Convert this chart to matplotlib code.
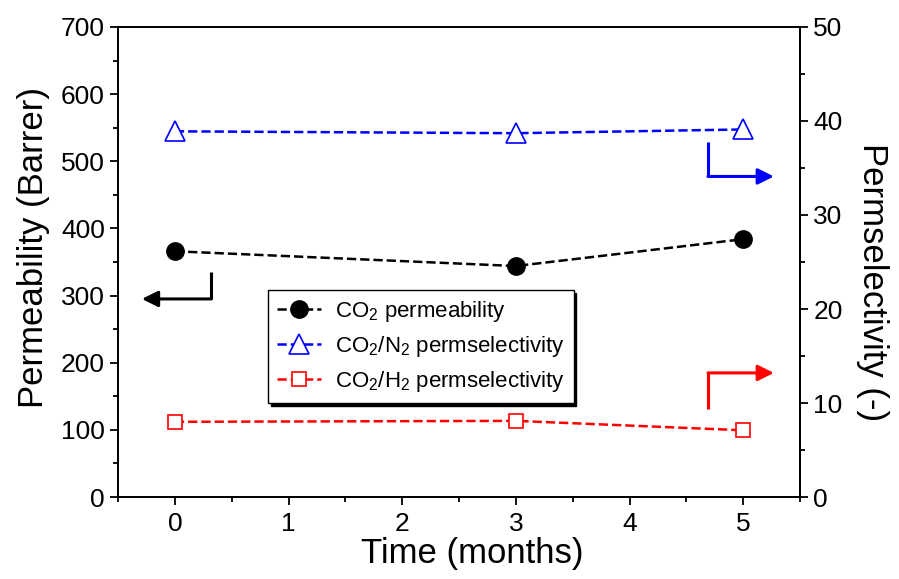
import matplotlib
matplotlib.use('Agg')
import matplotlib.pyplot as plt
from matplotlib.ticker import MultipleLocator

plt.rcParams['font.family'] = ['Liberation Sans', 'DejaVu Sans']
plt.rcParams['mathtext.fontset'] = 'custom'
plt.rcParams['mathtext.rm'] = 'Liberation Sans'
plt.rcParams['mathtext.default'] = 'regular'

# storage time (months)
months = [0, 3, 5]
# CO2 permeability, Barrer (left axis)
co2_perm = [366, 344, 384]
# permselectivities (right axis)
co2_n2_sel = [38.9, 38.7, 39.1]
co2_h2_sel = [8.0, 8.1, 7.1]

fig = plt.figure(figsize=(8.99, 5.79), dpi=100)
ax = fig.add_axes([0.1313, 0.1416, 0.7586, 0.8118])
ax2 = ax.twinx()

l1, = ax.plot(months, co2_perm, ls='--', lw=1.8, color='black', marker='o',
              ms=12.5, mfc='black', mec='black', label=r'CO$_2$ permeability')
l2, = ax2.plot(months, co2_n2_sel, ls='--', lw=1.8, color='#0000ff', marker='^',
               ms=14, mfc='white', mec='#0000ff', mew=1.2,
               label=r'CO$_2$/N$_2$ permselectivity')
l3, = ax2.plot(months, co2_h2_sel, ls='--', lw=1.8, color='#ff0000', marker='s',
               ms=10.5, mfc='white', mec='#ff0000', mew=1.2,
               label=r'CO$_2$/H$_2$ permselectivity')

ax.set_xlim(-0.5, 5.5)
ax.set_ylim(0, 700)
ax2.set_ylim(0, 50)

ax.xaxis.set_major_locator(MultipleLocator(1))
ax.xaxis.set_minor_locator(MultipleLocator(0.5))
ax.yaxis.set_major_locator(MultipleLocator(100))
ax.yaxis.set_minor_locator(MultipleLocator(50))
ax2.yaxis.set_major_locator(MultipleLocator(10))
ax2.yaxis.set_minor_locator(MultipleLocator(5))

for a in (ax, ax2):
    for s in a.spines.values():
        s.set_linewidth(1.3)
    a.tick_params(which='major', direction='out', length=6, width=1.3, labelsize=19)
    a.tick_params(which='minor', direction='out', length=3.5, width=1.3)
ax.tick_params(axis='x', pad=5)

ax.set_xlabel('Time (months)', fontsize=25, va='top')
ax.xaxis.set_label_coords(0.519, -0.085)
ax.set_ylabel('Permeability (Barrer)', fontsize=25, va='baseline',
              ha='center', rotation=90, rotation_mode='anchor')
ax.yaxis.set_label_coords(-0.11, 0.53)
ax2.set_ylabel('Permselectivity (-)', fontsize=25, va='baseline',
               ha='center', rotation=-90, rotation_mode='anchor')
ax2.yaxis.set_label_coords(1.092, 0.457)

# corner arrows pointing at each series' axis
arrow = dict(arrowstyle='-|>', mutation_scale=24, shrinkA=0, shrinkB=0)
ax.plot([0.32, 0.32], [335, 295], color='black', lw=2.2, solid_capstyle='butt')
ax.annotate('', xy=(-0.29, 295), xytext=(0.32, 295),
            arrowprops=dict(arrow, color='black', lw=2.2))
ax2.plot([4.69, 4.69], [37.8, 34.1], color='#0000ff', lw=2.2, solid_capstyle='butt')
ax2.annotate('', xy=(5.27, 34.1), xytext=(4.69, 34.1),
             arrowprops=dict(arrow, color='#0000ff', lw=2.2))
ax2.plot([4.69, 4.69], [9.4, 13.2], color='#ff0000', lw=2.2, solid_capstyle='butt')
ax2.annotate('', xy=(5.27, 13.2), xytext=(4.69, 13.2),
             arrowprops=dict(arrow, color='#ff0000', lw=2.2))

leg = ax2.legend(handles=[l1, l2, l3], loc='upper left',
                 bbox_to_anchor=(0.22, 0.44), bbox_transform=ax.transAxes,
                 borderaxespad=0, fontsize=16, frameon=True, fancybox=False,
                 shadow={'color': 'black', 'alpha': 1}, handlelength=2.0,
                 handletextpad=0.6, borderpad=0.4, labelspacing=0.45,
                 edgecolor='black', framealpha=1)
leg.get_frame().set_linewidth(1.0)

fig.savefig('out.png', dpi=100)
